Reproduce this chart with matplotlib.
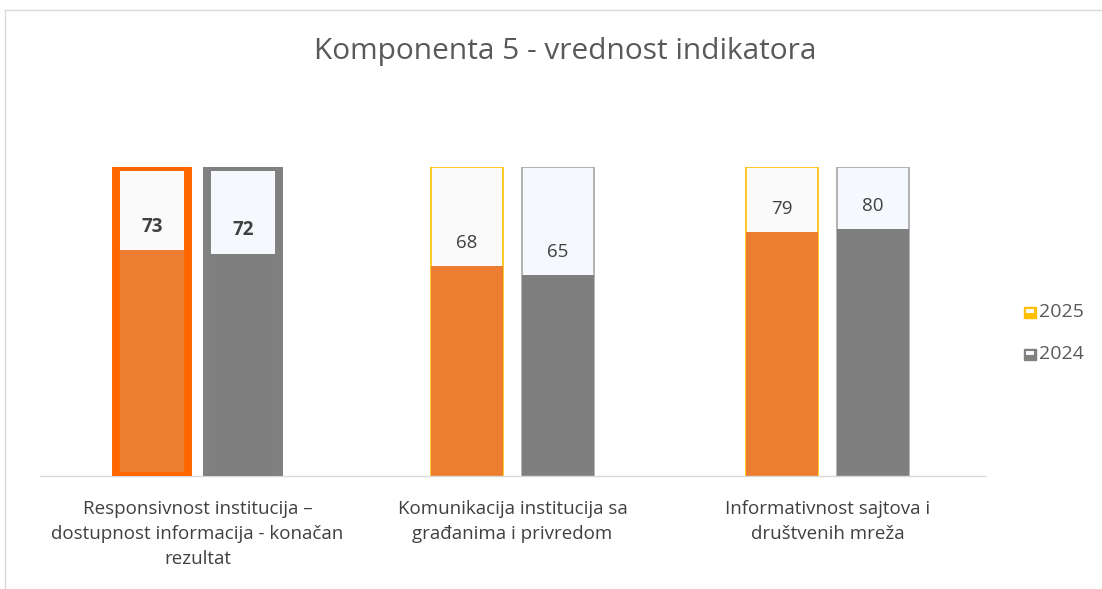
import matplotlib.pyplot as plt
from matplotlib.patches import Rectangle
from matplotlib.lines import Line2D
import numpy as np

plt.rcParams['font.family'] = ['Open Sans', 'DejaVu Sans']

categories = ['Responsivnost institucija –\ndostupnost informacija - konačan\nrezultat',
              'Komunikacija institucija sa\ngrađanima i privredom',
              'Informativnost sajtova i\ndruštvenih mreža']
years = ['2025', '2024']
vals_2025 = [73, 68, 79]
vals_2024 = [72, 65, 80]
full = 100

orange = '#ED7D31'
gray = '#7F7F7F'
txt = '#404040'

W, H = 1102, 589
fig = plt.figure(figsize=(W / 100, H / 100), dpi=100)
ax = fig.add_axes([40 / W, 1 - 476 / H, 945 / W, 309 / H])

x = np.arange(len(categories))
off = 0.144
bw = 0.229

# background "container" bars
for i in x:
    first = i == 0
    ax.bar(i - off, full, bw, color='#FAFAFA',
           edgecolor='#FF6600' if first else '#FFC000',
           linewidth=5.5 if first else 1.2, zorder=1)
    ax.bar(i + off, full, bw, color='#F5F8FC',
           edgecolor='#808080' if first else '#A6A6A6',
           linewidth=5.5 if first else 1.2, zorder=1)

ax.bar(x - off, vals_2025, bw, color=orange, zorder=2, linewidth=0)
ax.bar(x + off, vals_2024, bw, color=gray, zorder=2, linewidth=0)
# thick outlines of first group on top
ax.bar(0 - off, full, bw, color='none', edgecolor='#FF6600', linewidth=5.5, zorder=3)
ax.bar(0 + off, full, bw, color='none', edgecolor='#808080', linewidth=5.5, zorder=3)

for i in x:
    ax.text(i - off, vals_2025[i] + 7.5, str(vals_2025[i]), ha='center', va='center',
            fontsize=13.5, color=txt, fontweight='bold' if i == 0 else 'normal', zorder=4)
    ax.text(i + off, vals_2024[i] + 7.5, str(vals_2024[i]), ha='center', va='center',
            fontsize=13.5, color=txt, fontweight='bold' if i == 0 else 'normal', zorder=4)

ax.set_xlim(-0.5, 2.5)
ax.set_ylim(0, full)
ax.set_xticks(x)
ax.set_xticklabels(categories, fontsize=13.5, color=txt, linespacing=1.5)
ax.tick_params(axis='x', length=0, pad=17)
ax.set_yticks([])
for s in ['top', 'right', 'left']:
    ax.spines[s].set_visible(False)
ax.spines['bottom'].set_color('#D9D9D9')
ax.spines['bottom'].set_linewidth(1)

fig.text(565 / W, 1 - 52 / H, 'Komponenta 5 - vrednost indikatora',
         ha='center', va='center', fontsize=21.5, color='#595959')

# legend
leg_items = [('2025', '#FFC000', '#FAFAFA', 312), ('2024', '#808080', '#F5F8FC', 354)]
for lab, c, light, yy in leg_items:
    fig.patches.append(Rectangle((1024 / W, 1 - (yy + 6) / H), 12 / W, 11 / H,
                                 facecolor=c, edgecolor=c, transform=fig.transFigure))
    fig.patches.append(Rectangle((1026 / W, 1 - (yy + 1) / H), 8 / W, 4 / H,
                                 facecolor=light, edgecolor='none', transform=fig.transFigure))
    fig.text(1039 / W, 1 - yy / H, lab, ha='left', va='center', fontsize=14, color='#595959')

# chart frame
fig.lines.append(Line2D([5 / W, 5 / W], [0, 1 - 10 / H], color='#D9D9D9', lw=1,
                        transform=fig.transFigure))
fig.lines.append(Line2D([5 / W, 1], [1 - 10 / H, 1 - 10 / H], color='#D9D9D9', lw=1,
                        transform=fig.transFigure))

fig.savefig('out.png', dpi=100)
